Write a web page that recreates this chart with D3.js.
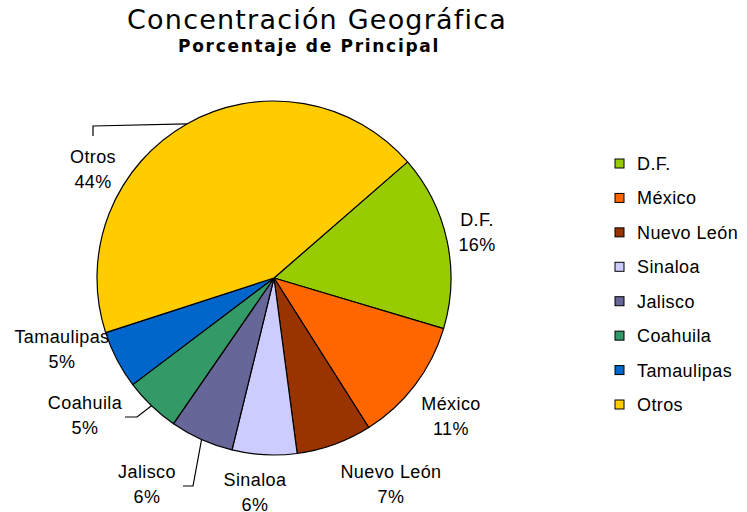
<!DOCTYPE html>
<html><head><meta charset="utf-8">
<script src="https://cdn.jsdelivr.net/npm/d3@7"></script>
<style>body{margin:0;background:#fff}svg{display:block}</style>
</head><body>
<script>
const categories = ["D.F.", "México", "Nuevo León", "Sinaloa", "Jalisco", "Coahuila", "Tamaulipas", "Otros"];
const values = [16.0, 11.4, 6.9, 5.9, 5.8, 5.1, 5.3, 43.6];
const colors = ["#99CC00", "#FF6600", "#993300", "#CCCCFF", "#666699", "#339966", "#0066CC", "#FFCC00"];

const W = 747, H = 512;
const svg = d3.select("body").append("svg").attr("width", W).attr("height", H);

svg.append("text").attr("x", 317).attr("y", 29).attr("text-anchor", "middle")
  .attr("font-family", "DejaVu Sans").attr("font-size", 27).attr("letter-spacing", 1.2)
  .text("Concentración Geográfica");
svg.append("text").attr("x", 309).attr("y", 52).attr("text-anchor", "middle")
  .attr("font-family", "DejaVu Sans").attr("font-weight", "bold").attr("font-size", 17)
  .attr("letter-spacing", 1.7).text("Porcentaje de Principal");

const cx = 274, cy = 278, R = 177;
const deg = Math.PI / 180;
const pie = d3.pie().sort(null).startAngle(49 * deg).endAngle(409 * deg);
const arcs = pie(values);
const arc = d3.arc().innerRadius(0).outerRadius(R);
const total = d3.sum(values);

const g = svg.append("g").attr("transform", `translate(${cx},${cy})`);
g.selectAll("path").data(arcs).join("path")
  .attr("d", arc).attr("fill", (d, i) => colors[i])
  .attr("stroke", "#000").attr("stroke-width", 1.2).attr("stroke-linejoin", "round");

// label anchor positions (layout)
const labelPos = [[477, 220], [451, 404], [391, 472], [255, 480], [147, 472], [85, 403], [62, 337], [93, 157]];
const lblFont = 18;
arcs.forEach((d, i) => {
  const [x, y] = labelPos[i];
  const t = svg.append("text").attr("x", x).attr("y", y + 6).attr("text-anchor", "middle")
    .attr("font-family", "Liberation Sans, Arial").attr("font-size", lblFont).attr("letter-spacing", 0.4)
    .attr("fill", "#000");
  t.append("tspan").attr("x", x).text(categories[i]);
  t.append("tspan").attr("x", x).attr("dy", 25).text(Math.round(values[i] / total * 100) + "%");
});

// leader lines
function edge(i) {
  const a = (arcs[i].startAngle + arcs[i].endAngle) / 2;
  return [cx + R * Math.sin(a), cy - R * Math.cos(a)];
}
const leaders = [
  [7, [[93, 126], [93, 136]]],
  [4, [[193, 486], [183, 486]]],
  [5, [[137, 417], [125, 417]]]
];
leaders.forEach(([i, pts]) => {
  svg.append("path").attr("d", d3.line()([edge(i), ...pts]))
    .attr("fill", "none").attr("stroke", "#000").attr("stroke-width", 1.2);
});

// legend
const lg = svg.append("g");
const ly = d3.scalePoint().domain(categories).range([164, 405]);
categories.forEach((c, i) => {
  const y = ly(c);
  lg.append("rect").attr("x", 615).attr("y", y - 5).attr("width", 9).attr("height", 9)
    .attr("fill", colors[i]).attr("stroke", "#000").attr("stroke-width", 1);
  lg.append("text").attr("x", 637).attr("y", y + 6).attr("font-family", "Liberation Sans, Arial")
    .attr("font-size", lblFont).attr("letter-spacing", 0.4).text(c);
});
</script>
</body></html>
